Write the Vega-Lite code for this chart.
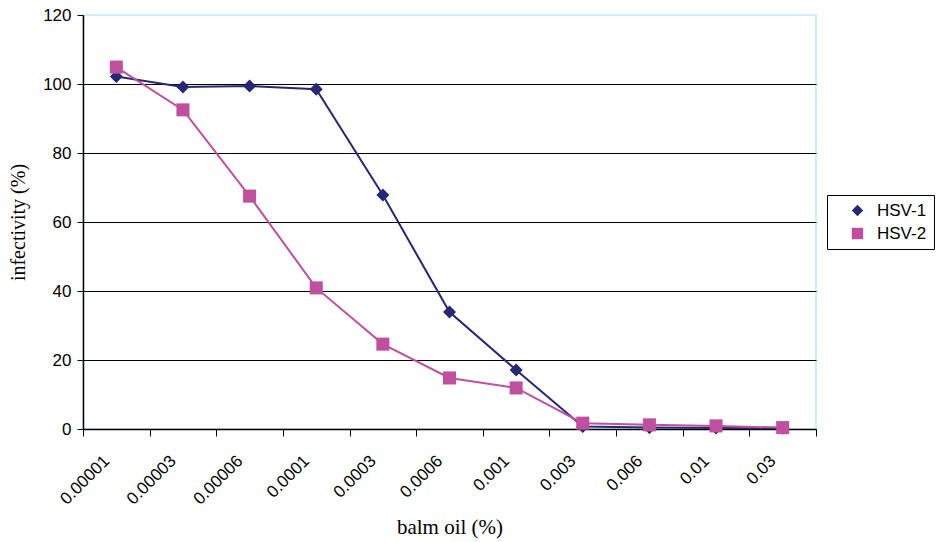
{
  "$schema": "https://vega.github.io/schema/vega-lite/v6.json",
  "width": 733,
  "height": 414,
  "autosize": {"type": "none"},
  "padding": {"left": 83, "top": 15, "right": 120, "bottom": 113},
  "background": "white",
  "config": {
    "view": {"stroke": "#cdeefa", "strokeWidth": 2},
    "font": "Liberation Sans"
  },
  "data": {
    "values": [
      {"conc": "0.00001", "series": "HSV-1", "infectivity": 102.2},
      {"conc": "0.00003", "series": "HSV-1", "infectivity": 99.1},
      {"conc": "0.00006", "series": "HSV-1", "infectivity": 99.4},
      {"conc": "0.0001", "series": "HSV-1", "infectivity": 98.5},
      {"conc": "0.0003", "series": "HSV-1", "infectivity": 67.8},
      {"conc": "0.0006", "series": "HSV-1", "infectivity": 33.9},
      {"conc": "0.001", "series": "HSV-1", "infectivity": 17.1},
      {"conc": "0.003", "series": "HSV-1", "infectivity": 0.7},
      {"conc": "0.006", "series": "HSV-1", "infectivity": 0.4},
      {"conc": "0.01", "series": "HSV-1", "infectivity": 0.3},
      {"conc": "0.03", "series": "HSV-1", "infectivity": 0.2},
      {"conc": "0.00001", "series": "HSV-2", "infectivity": 104.9},
      {"conc": "0.00003", "series": "HSV-2", "infectivity": 92.5},
      {"conc": "0.00006", "series": "HSV-2", "infectivity": 67.5},
      {"conc": "0.0001", "series": "HSV-2", "infectivity": 40.9},
      {"conc": "0.0003", "series": "HSV-2", "infectivity": 24.6},
      {"conc": "0.0006", "series": "HSV-2", "infectivity": 14.8},
      {"conc": "0.001", "series": "HSV-2", "infectivity": 11.9},
      {"conc": "0.003", "series": "HSV-2", "infectivity": 1.7},
      {"conc": "0.006", "series": "HSV-2", "infectivity": 1.2},
      {"conc": "0.01", "series": "HSV-2", "infectivity": 0.9},
      {"conc": "0.03", "series": "HSV-2", "infectivity": 0.4}
    ]
  },
  "encoding": {
    "x": {
      "field": "conc",
      "type": "ordinal",
      "sort": null,
      "scale": {"type": "band", "paddingInner": 0, "paddingOuter": 0},
      "axis": {
        "title": "balm oil (%)",
        "titleFont": "Liberation Serif",
        "titleFontSize": 21,
        "titleFontWeight": "normal",
        "titleColor": "black",
        "titleY": 104,
        "titleBaseline": "alphabetic",
        "labelAngle": -45,
        "labelAlign": "right",
        "labelBaseline": "middle",
        "labelFontSize": 17,
        "labelColor": "black",
        "labelPadding": 22,
        "labelOffset": -10,
        "tickBand": "extent",
        "tickSize": 7,
        "tickColor": "black",
        "domainColor": "black",
        "domainWidth": 1.5,
        "grid": false
      }
    },
    "y": {
      "field": "infectivity",
      "type": "quantitative",
      "scale": {"domain": [0, 120], "nice": false},
      "axis": {
        "title": "infectivity (%)",
        "titleFont": "Liberation Serif",
        "titleFontSize": 20,
        "titleFontWeight": "normal",
        "titleColor": "black",
        "titleX": -65,
        "titleBaseline": "middle",
        "values": [0, 20, 40, 60, 80, 100, 120],
        "labelFontSize": 17,
        "labelColor": "black",
        "labelPadding": 6,
        "tickSize": 6,
        "tickColor": "black",
        "domainColor": "black",
        "domainWidth": 1.5,
        "grid": true,
        "gridColor": {"condition": {"test": "datum.value === 120", "value": "#cdeefa"}, "value": "black"},
        "gridWidth": 1
      }
    },
    "color": {
      "field": "series",
      "type": "nominal",
      "scale": {"domain": ["HSV-1", "HSV-2"], "range": ["#262877", "#c0509e"]},
      "legend": {
        "title": null,
        "orient": "none",
        "legendX": 744,
        "legendY": 180,
        "direction": "vertical",
        "labelFontSize": 17,
        "labelColor": "black",
        "symbolOffset": 15,
        "labelOffset": 11,
        "rowPadding": 5,
        "padding": 7,
        "strokeColor": "black",
        "fillColor": "white",
        "symbolSize": 130,
        "symbolStrokeWidth": 0
      }
    }
  },
  "layer": [
    {
      "mark": {"type": "line", "strokeWidth": 2}
    },
    {
      "mark": {"type": "point", "filled": true, "opacity": 1, "size": 170},
      "encoding": {
        "shape": {
          "field": "series",
          "type": "nominal",
          "scale": {"domain": ["HSV-1", "HSV-2"], "range": ["diamond", "square"]},
          "legend": null
        }
      }
    }
  ]
}
